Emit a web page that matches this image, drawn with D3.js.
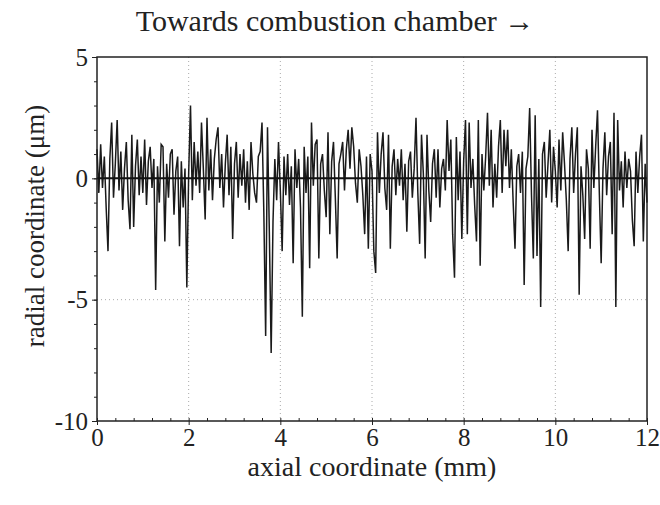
<!DOCTYPE html>
<html lang="en">
<head>
  <meta charset="UTF-8">
  <title>Radial profile</title>
  <script src="https://d3js.org/d3.v7.min.js"></script>
  <style>
    body { margin: 0; background: #fff; }
    text { font-family: "Liberation Serif", "DejaVu Serif", serif; fill: #222; }
  </style>
</head>
<body>
  <script>
    const step = 0.04;
    const profile = [
      1.2, -0.6, 1.4, -0.4, 0.9, -1.2, -3.0, 0.8, 2.3, -0.8, 0.6, 2.4, -0.5, 1.1, -1.3, 0.4, 1.5, -0.9, -2.1, 1.8, -2.0, 0.5, 1.6, -0.7, 0.9,
      -0.6, 1.6, -1.1, 0.7, 1.3, -0.4, 0.8, -4.6, 0.5, -1.0, 1.4, 1.3, -2.6, 0.6, -0.8, 1.0, 1.2, -1.5, 0.3, 0.9, -2.8, 0.7, -1.2, 0.4, -4.5,
      0.2, 3.0, -0.9, 1.5, -0.3, 1.1, -0.6, 2.3, 0.4, -1.7, 2.5, -0.5, 1.2, -0.9, 0.8, 1.6, 2.1, -0.4, 1.0, -1.2, 0.6, 1.8, -0.7, 1.3, -2.5,
      0.6, 1.5, -0.8, 1.0, -0.3, 1.2, -1.0, 0.7, -1.3, 1.5, 0.2, -0.6, -1.0, 0.9, 1.1, 2.3, -1.4, -6.5, 2.1, -2.2, -7.2, -1.8, 0.8, -0.9, 1.5,
      -0.5, -3.0, 0.9, -0.7, 1.0, -1.1, 0.5, -3.5, 1.2, -0.4, 0.8, -1.2, -5.7, 1.3, -0.6, 0.9, -3.7, 2.3, -0.3, 1.4, 1.6, -3.3, 0.6, 1.0, -0.5,
      -1.6, 1.9, -2.3, 0.7, 1.5, -0.8, -3.3, 0.6, 1.0, 1.5, -0.5, 1.2, 2.0, 0.4, 2.1, 1.3, -0.2, -1.0, 1.2, 0.5, -0.7, -2.3, 0.9, -2.9, 1.0,
      0.3, -3.0, -3.9, 1.9, -0.6, 1.0, 1.9, -0.4, -1.3, 1.8, -2.9, 0.5, 1.2, -0.7, 0.8, -0.3, 1.2, -0.9, 0.6, -2.2, 0.7, 1.1, -0.8, 0.4, 2.5,
      -0.6, -2.7, 1.8, 0.2, -3.3, 1.8, -0.5, -1.8, 0.6, 1.2, -0.8, 1.2, -1.2, 0.4, 0.8, -0.5, 2.4, 0.3, 1.6, -2.3, -4.1, 1.7, -0.9, 1.1, -2.5,
      0.7, 2.4, -2.3, 2.3, -0.4, 0.8, -1.1, -2.6, 2.4, -3.6, 1.0, -0.5, 0.9, 2.7, -0.3, 2.0, -1.2, 0.6, -0.8, 1.3, 2.4, -0.6, 2.0, 0.5, 2.0,
      -0.4, 1.2, -1.0, -2.9, 0.5, 1.0, -0.6, 1.1, -4.4, 0.4, 0.9, 2.9, -0.7, -3.3, 2.6, -3.2, 0.8, -5.3, 1.0, 1.5, -0.8, 0.6, 2.0, -1.0, 1.3,
      0.3, -1.2, 1.6, -0.5, 1.9, 0.6, -0.9, -3.0, 0.8, 2.1, -0.6, 1.0, 2.1, -4.8, 0.5, -0.7, -2.5, 1.2, 0.4, -2.9, 2.0, -0.4, 1.3, 2.8, -0.6,
      -3.5, 0.4, 1.9, -0.7, 0.9, 1.5, -2.3, 2.7, -5.3, 2.4, -0.5, 0.7, -1.2, 1.1, -0.4, 0.8, 0.3, -1.7, -2.8, 1.1, -0.6, 0.9, 1.8, -2.6, 0.6,
      -1.0
    ];
    const xTicks = [0, 2, 4, 6, 8, 10, 12];
    const yTicks = [5, 0, -5, -10];
    const xGrid = [2, 4, 6, 8, 10];
    const yGrid = [-5];

    // 2. SVG
    const width = 660, height = 505;
    const margin = { top: 57, right: 13, bottom: 84, left: 97 };
    const svg = d3.select("body").append("svg")
      .attr("width", width)
      .attr("height", height);

    // 3. Scales
    const x = d3.scaleLinear().domain([0, 12]).range([margin.left, width - margin.right]);
    const y = d3.scaleLinear().domain([-10, 5]).range([height - margin.bottom, margin.top]);

    // 4. Grid
    svg.append("g").selectAll("line").data(xGrid).join("line")
      .attr("x1", d => x(d)).attr("x2", d => x(d))
      .attr("y1", y(5)).attr("y2", y(-10))
      .attr("stroke", "#aaa").attr("stroke-width", 1).attr("stroke-dasharray", "1,3");
    svg.append("g").selectAll("line").data(yGrid).join("line")
      .attr("x1", x(0)).attr("x2", x(12))
      .attr("y1", d => y(d)).attr("y2", d => y(d))
      .attr("stroke", "#aaa").attr("stroke-width", 1).attr("stroke-dasharray", "1,3");

    // 5. Profile
    const line = d3.line()
      .x((d, i) => x(i * step))
      .y(d => y(d));
    svg.append("path")
      .datum(profile)
      .attr("fill", "none")
      .attr("stroke", "#1a1a1a")
      .attr("stroke-width", 1.5)
      .attr("stroke-linejoin", "miter")
      .attr("d", line);

    // zero line
    svg.append("line")
      .attr("x1", x(0)).attr("x2", x(12))
      .attr("y1", y(0)).attr("y2", y(0))
      .attr("stroke", "#111").attr("stroke-width", 2);

    // 6. Frame and axes
    svg.append("rect")
      .attr("x", x(0)).attr("y", y(5))
      .attr("width", x(12) - x(0)).attr("height", y(-10) - y(5))
      .attr("fill", "none").attr("stroke", "#222").attr("stroke-width", 1.5);

    // minor ticks
    svg.append("g").attr("transform", `translate(0,${y(-10)})`)
      .call(d3.axisTop(x).tickValues(d3.range(0, 12.01, 0.4)).tickSize(3).tickFormat(""))
      .call(g => g.select(".domain").remove());
    const xMajor = svg.append("g").attr("transform", `translate(0,${y(-10)})`)
      .call(d3.axisBottom(x).tickValues(xTicks).tickSize(4).tickPadding(3).tickFormat(d3.format("d")));
    xMajor.select(".domain").remove();
    xMajor.selectAll("text").attr("font-size", 25).style("font-family", "Liberation Serif");

    svg.append("g").attr("transform", `translate(${x(0)},0)`)
      .call(d3.axisLeft(y).tickValues(d3.range(-10, 5.01, 1)).tickSize(3).tickFormat(""))
      .call(g => g.select(".domain").remove());
    const yMajor = svg.append("g").attr("transform", `translate(${x(0)},0)`)
      .call(d3.axisLeft(y).tickValues(yTicks).tickSize(5).tickPadding(4).tickFormat(d => d < 0 ? "-" + Math.abs(d) : d));
    yMajor.select(".domain").remove();
    yMajor.selectAll("text").attr("font-size", 25).style("font-family", "Liberation Serif");
    svg.selectAll(".tick line").attr("stroke", "#222");

    // 7. Labels
    svg.append("text")
      .attr("x", 335).attr("y", 31)
      .attr("text-anchor", "middle")
      .attr("font-size", 30)
      .text("Towards combustion chamber  \u2192");
    svg.append("text")
      .attr("x", (x(0) + x(12)) / 2).attr("y", 476)
      .attr("text-anchor", "middle")
      .attr("font-size", 28)
      .text("axial coordinate (mm)");
    svg.append("text")
      .attr("transform", `translate(44,226) rotate(-90)`)
      .attr("text-anchor", "middle")
      .attr("font-size", 27)
      .text("radial coordinate (\u03bcm)");
  </script>
</body>
</html>
